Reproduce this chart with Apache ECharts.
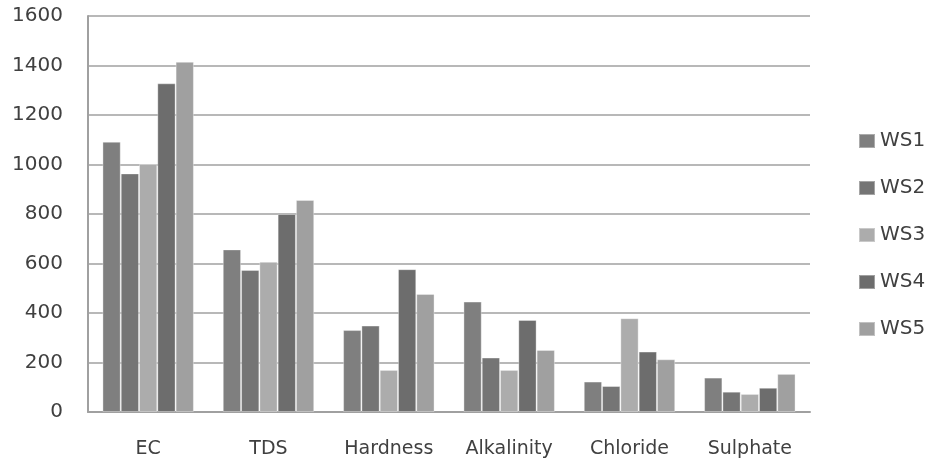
<!DOCTYPE html>
<html><head><meta charset="utf-8">
<script src="https://cdn.jsdelivr.net/npm/echarts@6/dist/echarts.min.js"></script>
<style>html,body{margin:0;padding:0;background:#fff}#c{width:927px;height:466px}</style>
</head><body><div id="c"></div>
<script>
const categories = ['EC', 'TDS', 'Hardness', 'Alkalinity', 'Chloride', 'Sulphate'];
const seriesNames = ['WS1', 'WS2', 'WS3', 'WS4', 'WS5'];
const WS1 = [1092, 657, 331, 446, 123, 139];
const WS2 = [964, 574, 349, 220, 105, 82];
const WS3 = [1002, 607, 170, 170, 379, 73];
const WS4 = [1328, 800, 577, 372, 244, 98];
const WS5 = [1415, 857, 477, 251, 213, 154];
const yTicks = [0, 200, 400, 600, 800, 1000, 1200, 1400, 1600];

const values = [WS1, WS2, WS3, WS4, WS5];
const colors = ['#7f7f7f', '#757575', '#acacac', '#6d6d6d', '#a0a0a0'];
const font = 'DejaVu Sans';
const chart = echarts.init(document.getElementById('c'), null, {renderer: 'canvas'});
chart.setOption({
  animation: false,
  backgroundColor: '#fff',
  textStyle: {fontFamily: font},
  grid: {left: 88, right: 117, top: 16, bottom: 54},
  legend: {
    orient: 'vertical', left: 853, top: 126,
    itemWidth: 16, itemHeight: 14, itemGap: 27,
    icon: 'rect',
    textStyle: {fontFamily: font, fontSize: 20, color: '#404040'},
    data: seriesNames
  },
  xAxis: {
    type: 'category', data: categories,
    axisLine: {lineStyle: {color: '#a0a0a0', width: 2}},
    axisTick: {show: false},
    axisLabel: {fontFamily: font, fontSize: 19, color: '#404040', margin: 28, interval: 0}
  },
  yAxis: {
    type: 'value', min: yTicks[0], max: yTicks[yTicks.length - 1], interval: 200,
    axisLine: {show: true, lineStyle: {color: '#a0a0a0', width: 2}},
    axisTick: {show: false},
    splitLine: {lineStyle: {color: '#a0a0a0', width: 1.5}},
    axisLabel: {fontFamily: font, fontSize: 20, color: '#404040', margin: 25, formatter: v => String(v)}
  },
  series: seriesNames.map((n, i) => ({
    name: n, type: 'bar', data: values[i],
    barGap: '0%', barCategoryGap: '24%',
    itemStyle: {color: colors[i], borderColor: 'rgba(255,255,255,0.35)', borderWidth: 1}
  }))
});
</script></body></html>
